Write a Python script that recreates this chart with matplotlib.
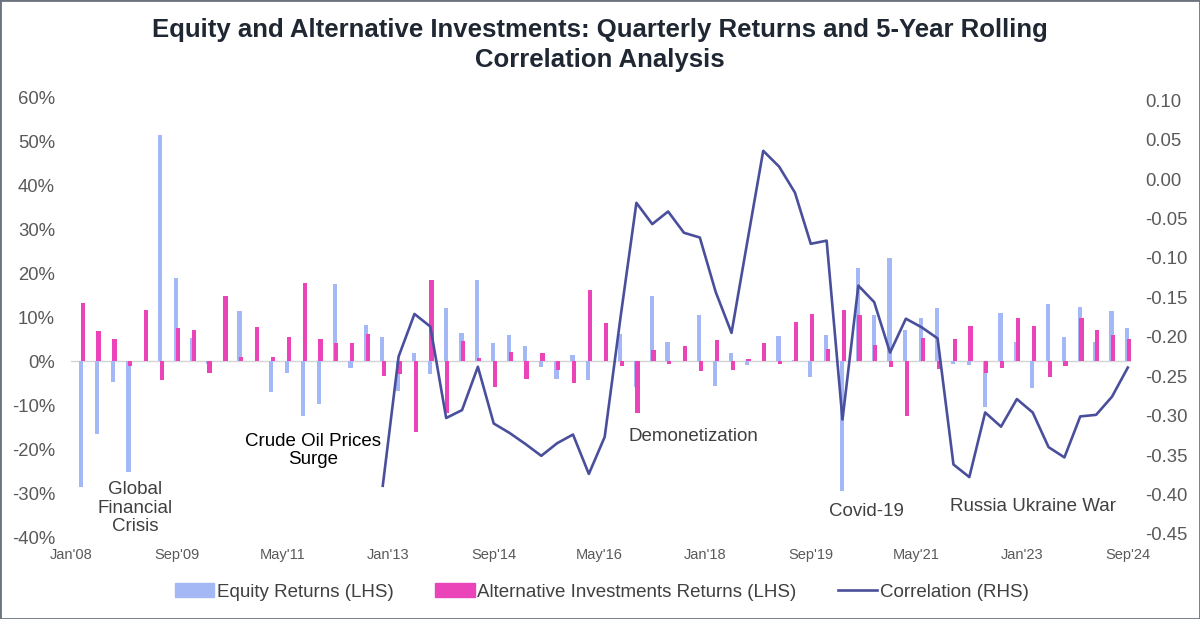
import matplotlib.pyplot as plt
import numpy as np
import pandas as pd
from matplotlib.patches import Patch, Rectangle
from matplotlib.lines import Line2D

plt.rcParams['font.family'] = ['Liberation Sans', 'DejaVu Sans']

# quarter-end months, Mar'08 .. Sep'24
quarters = pd.date_range('2008-03-01', '2024-09-01', freq='3MS')
tick_dates = pd.date_range('2008-01-01', '2024-09-01', freq='20MS')

equity_returns = [
    -28.7, -16.6, -4.6, -25.3, 0.2, 51.6, 18.9, 5.3, -0.5, 0.2,
    11.5, 0.2, -6.9, -2.6, -12.4, -9.8, 17.6, -1.4, 8.3, 5.5,
    -6.8, 1.8, -2.8, 12.2, 6.5, 18.5, 4.1, 5.9, 3.4, -1.3,
    -3.9, 1.5, -4.2, 0.2, 6.2, -5.8, 14.9, 4.5, 0.2, 10.6,
    -5.5, 2.0, -0.8, 0.2, 5.8, 0.3, -3.5, 5.9, -29.5, 21.3,
    10.6, 23.5, 7.2, 9.8, 12.1, -0.5, -0.8, -10.3, 11.0, 4.5,
    -6.0, 13.1, 5.5, 12.5, 4.5, 11.5, 7.7,
]
alt_returns = [
    13.4, 6.9, 5.1, -1.0, 11.7, -4.2, 7.5, 7.1, -2.7, 15.0,
    1.1, 7.9, 1.1, 5.5, 17.9, 5.0, 4.1, 4.3, 6.2, -3.3,
    -2.8, -16.0, 18.5, -11.8, 4.6, 0.8, -5.8, 2.1, -3.9, 1.8,
    -2.0, -5.0, 16.3, 8.8, -1.0, -11.7, 2.5, -0.5, 3.5, -2.3,
    4.9, -1.9, 0.5, 4.1, -0.6, 8.9, 10.7, 2.8, 11.7, 10.6,
    3.7, -1.2, -12.5, 5.4, -1.8, 5.0, 8.0, -2.6, -1.5, 10.0,
    8.1, -3.5, -1.0, 10.0, 7.1, 5.9, 5.1,
]
# 5-year rolling correlation, available from Dec'12
correlation = [
    -0.389, -0.225, -0.171, -0.187, -0.303, -0.293, -0.238, -0.310, -0.322, -0.336,
    -0.351, -0.335, -0.324, -0.374, -0.327, -0.175, -0.030, -0.057, -0.041, -0.068,
    -0.074, -0.143, -0.195, -0.079, 0.036, 0.016, -0.017, -0.082, -0.078, -0.305,
    -0.135, -0.156, -0.220, -0.177, -0.188, -0.202, -0.362, -0.378, -0.296, -0.314,
    -0.279, -0.296, -0.340, -0.353, -0.301, -0.299, -0.276, -0.239,
]

events = [
    ("Global\nFinancial\nCrisis", 12.1, -33.4, '#404040'),
    ("Crude Oil Prices\nSurge", 45.8, -20.3, '#000000'),
    ("Demonetization", 117.7, -17.2, '#404040'),
    ("Covid-19", 150.6, -34.2, '#404040'),
    ("Russia Ukraine War", 182.0, -33.1, '#404040'),
]


def month_index(dates):
    return np.array([(d.year - 2008) * 12 + d.month - 1 for d in dates])


def corr_fmt(v, pos):
    s = f"{v:.2f}"
    return "0.00" if s == "-0.00" else s


x = month_index(quarters)
x_ticks = month_index(tick_dates)
tick_labels = [d.strftime("%b'%y") for d in tick_dates]

blue = '#a3b8f5'
pink = '#ea44b8'
navy = '#4a4f9c'
gray = '#595959'

fig = plt.figure(figsize=(12, 6.19), dpi=100)
ax = fig.add_axes([71 / 1200, 82 / 619, 1060 / 1200, 439 / 619])

ax.axhline(0, color='#d4d4d4', lw=1, zorder=1)
ax.bar(x - 0.1, equity_returns, width=0.8, color=blue, zorder=2)
ax.bar(x + 0.22, alt_returns, width=0.8, color=pink, zorder=3)

ax.set_xlim(0, 200.6)
ax.set_ylim(-40, 60)
ax.set_yticks(np.arange(-40, 61, 10))
ax.set_yticklabels([f"{v}%" for v in range(-40, 61, 10)])
ax.set_xticks(x_ticks)
ax.set_xticklabels(tick_labels)
ax.tick_params(axis='y', length=0, pad=11.5, labelsize=13.3, labelcolor=gray)
ax.tick_params(axis='x', length=0, pad=8, labelsize=10.5, labelcolor=gray)
for s in ax.spines.values():
    s.set_visible(False)

for label, ex, ey, col in events:
    ax.text(ex, ey, label, ha='center', va='center', fontsize=13.5,
            color=col, linespacing=1.1, zorder=5)

ax2 = ax.twinx()
ax2.plot(x[-len(correlation):], correlation, color=navy, lw=1.9, zorder=4)
ax2.set_ylim(-0.454, 0.103)
ax2.set_yticks(np.round(np.arange(-0.45, 0.101, 0.05), 2))
ax2.yaxis.set_major_formatter(plt.FuncFormatter(corr_fmt))
ax2.tick_params(axis='y', length=0, pad=10, labelsize=13.3, labelcolor=gray)
for s in ax2.spines.values():
    s.set_visible(False)

fig.text(0.5, 1 - 45 / 619,
         "Equity and Alternative Investments: Quarterly Returns and 5-Year Rolling\n"
         "Correlation Analysis",
         ha='center', va='center', fontsize=18.5, fontweight='bold',
         color='#1f2733', linespacing=1.3)

handles = [
    Patch(color=blue, label='Equity Returns (LHS)'),
    Patch(color=pink, label='Alternative Investments Returns (LHS)'),
    Line2D([], [], color=navy, lw=1.9, label='Correlation (RHS)'),
]
fig.legend(handles=handles, loc='center', bbox_to_anchor=(0.5017, 27 / 619),
           ncol=3, frameon=False, fontsize=13.5, labelcolor='#404040',
           handlelength=2.1, handleheight=0.7, handletextpad=0.15,
           columnspacing=2.2)

fig.add_artist(Rectangle((0, 0), 1, 1, transform=fig.transFigure, fill=False,
                         edgecolor='#6b7280', lw=2))

fig.savefig('out.png', dpi=100)
